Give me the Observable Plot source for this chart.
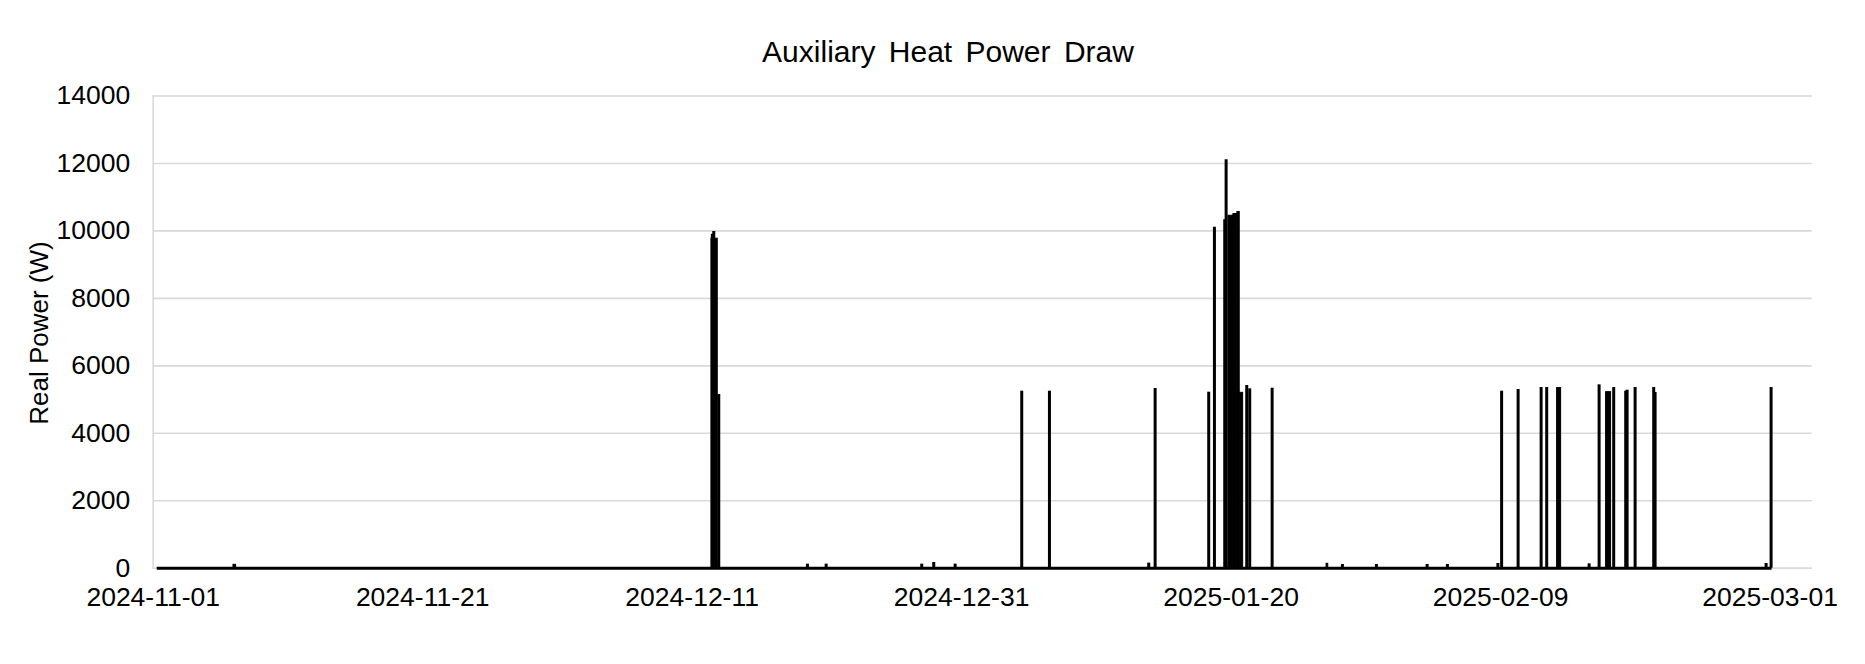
<!DOCTYPE html>
<html>
<head>
<meta charset="utf-8">
<script src="https://cdn.jsdelivr.net/npm/d3@7"></script>
<script src="https://cdn.jsdelivr.net/npm/@observablehq/plot@0.6"></script>
<style>
  body { margin: 0; background: #fff; }
  #wrap { position: relative; width: 1865px; height: 664px; font-family: "Liberation Sans", Arial, sans-serif; color: #000; }
  #title { position: absolute; left: 0; top: 37px; width: 1896px; text-align: center; font-size: 30px; line-height: 30px; word-spacing: 5px; white-space: nowrap; }
  #ylabel { position: absolute; left: -111px; top: 319.5px; width: 300px; height: 26px; line-height: 26px; font-size: 26px; text-align: center; transform: rotate(-90deg); white-space: nowrap; }
  #chart { position: absolute; left: 0; top: 0; }
</style>
</head>
<body>
<div id="wrap">
  <div id="chart"></div>
  <div id="title">Auxiliary Heat Power Draw</div>
  <div id="ylabel">Real Power (W)</div>
</div>
<script>
// ---- data ----
const titleText = "Auxiliary Heat Power Draw";
const yLabel = "Real Power (W)";
const xTicks = ["2024-11-01", "2024-11-21", "2024-12-11", "2024-12-31", "2025-01-20", "2025-02-09", "2025-03-01"];
const yTicks = [0, 2000, 4000, 6000, 8000, 10000, 12000, 14000];
const xDomain = ["2024-11-01T00:00Z", "2025-03-04T03:00Z"];
const seriesStart = "2024-11-01T07:07Z";
const seriesEnd = "2025-03-01T03:33Z";

// single short spikes (time, watts)
const spikeTimes = [
  "2024-12-12T12:00Z", "2024-12-12T14:28Z", "2024-12-12T23:22Z",
  "2024-12-19T13:20Z", "2024-12-20T22:40Z", "2024-12-28T00:56Z", "2024-12-28T22:17Z", "2024-12-30T12:26Z",
  "2025-01-04T11:02Z", "2025-01-06T12:23Z", "2025-01-13T21:14Z", "2025-01-14T08:38Z",
  "2025-01-18T08:05Z", "2025-01-18T18:16Z", "2025-01-19T12:36Z", "2025-01-19T15:05Z",
  "2025-01-21T03:48Z", "2025-01-21T09:07Z", "2025-01-23T01:02Z",
  "2025-01-28T06:14Z", "2025-01-30T18:48Z", "2025-02-03T13:05Z", "2025-02-05T01:15Z", "2025-02-08T19:12Z",
  "2025-02-09T01:47Z", "2025-02-10T07:10Z", "2025-02-12T00:09Z", "2025-02-12T10:06Z",
  "2025-02-15T13:38Z", "2025-02-16T07:26Z", "2025-02-17T09:26Z",
  "2025-02-18T06:49Z", "2025-02-18T09:19Z", "2025-02-18T23:34Z",
  "2025-02-20T08:41Z", "2025-02-20T11:11Z", "2025-02-28T16:52Z", "2025-03-01T01:46Z"
];
const spikeWatts = [
  9900, 9980, 5150,
  120, 120, 120, 170, 120,
  5248, 5248, 150, 5328,
  5218, 10110, 10329, 12108,
  5417, 5318, 5337,
  110, 110, 110, 110, 140,
  5248, 5298, 5357, 5357,
  130, 5437, 5357,
  5248, 5277, 5357,
  5357, 5209, 140, 5357
];

// sustained runs (start, end, watts)
const runStarts = [
  "2024-11-06T23:00Z", "2024-12-12T10:22Z",
  "2025-01-19T19:12Z", "2025-01-20T04:06Z", "2025-01-20T11:14Z", "2025-01-20T15:19Z",
  "2025-01-27T02:00Z", "2025-02-13T04:38Z", "2025-02-16T19:54Z"
];
const runEnds = [
  "2024-11-07T03:40Z", "2024-12-12T21:36Z",
  "2025-01-20T04:06Z", "2025-01-20T11:14Z", "2025-01-20T15:19Z", "2025-01-20T21:23Z",
  "2025-01-27T05:00Z", "2025-02-13T11:46Z", "2025-02-17T04:48Z"
];
const runWatts = [100, 9770, 10450, 10500, 10560, 5200, 130, 5340, 5220];

// ---- build tables ----
const spikes = spikeTimes.map((t, i) => ({t: new Date(t), v: spikeWatts[i]}));
const runs = runStarts.map((s, i) => ({s: new Date(s), e: new Date(runEnds[i]), v: runWatts[i]}));
const fmt = d3.utcFormat("%Y-%m-%d");

const chart = Plot.plot({
  width: 1865,
  height: 664,
  marginTop: 95.5,
  marginBottom: 96.3,
  marginLeft: 152.7,
  marginRight: 53.3,
  style: {fontFamily: "'Liberation Sans', Arial, sans-serif", fontSize: "26px", color: "#000", background: "#fff", overflow: "visible"},
  x: {type: "utc", domain: xDomain.map(d => new Date(d))},
  y: {domain: [0, 14000]},
  marks: [
    Plot.gridY(yTicks, {stroke: "#d9d9d9", strokeOpacity: 1, strokeWidth: 1.6}),
    Plot.frame({anchor: "left", stroke: "#d9d9d9", strokeWidth: 1.6}),
    Plot.ruleY([0], {stroke: "#d9d9d9", strokeWidth: 1.6}),
    Plot.rectY(runs, {x1: "s", x2: "e", y1: 0, y2: "v", fill: "#000", stroke: "#000", strokeWidth: 1, inset: 0}),
    Plot.ruleX(spikes, {x: "t", y1: 0, y2: "v", stroke: "#000", strokeWidth: 3}),
    Plot.ruleY([0], {x1: new Date(seriesStart), x2: new Date(seriesEnd), stroke: "#000", strokeWidth: 3}),
    Plot.axisY(yTicks, {tickSize: 0, tickPadding: 23, fontSize: 26.5, tickFormat: d3.format("d"), label: null}),
    Plot.axisX(xTicks.map(d => new Date(d + "T00:00Z")), {tickSize: 0, tickPadding: 19, fontSize: 26.5, tickFormat: fmt, label: null})
  ]
});
document.getElementById("chart").appendChild(chart);
document.getElementById("title").textContent = titleText;
document.getElementById("ylabel").textContent = yLabel;
</script>
</body>
</html>
